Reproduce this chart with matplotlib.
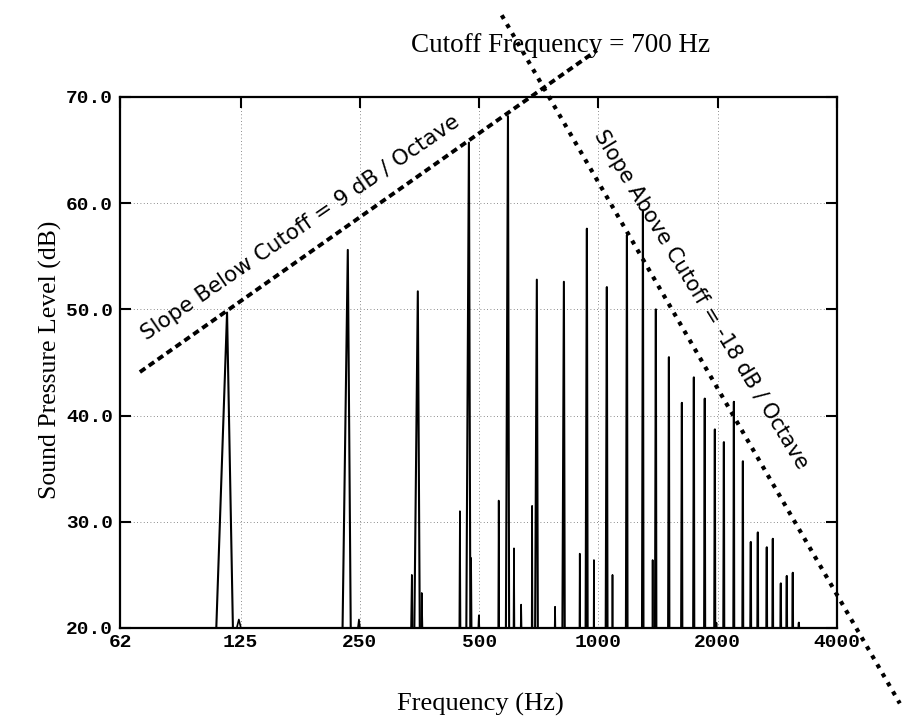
import matplotlib
matplotlib.use("Agg")
import matplotlib.pyplot as plt
from matplotlib.ticker import NullLocator

# Harmonic peaks of the spectrum (Hz, dB)
peak_freqs = [115.5, 233, 350, 471, 591, 699, 818, 935, 1050, 1180, 1295, 1396, 1506, 1624,
              1741, 1855, 1967, 2073, 2197, 2315, 2424, 2525, 2660, 2755, 2886, 2988, 3094, 3205]
peak_levels = [49.7, 55.6, 51.7, 65.7, 68.2, 52.8, 52.6, 57.6, 52.1, 57.0, 59.3, 50.0, 45.5, 41.2,
               43.6, 41.6, 38.7, 37.5, 41.3, 35.7, 28.1, 29.0, 27.6, 28.4, 24.2, 24.9, 25.2, 20.5]

# Small side components between the harmonics
side_freqs = [123.7, 248.6, 338, 358, 447, 477, 499, 560, 612, 638, 680, 777, 897, 974, 1085, 1370, 1985]
side_levels = [20.8, 20.8, 25.0, 23.3, 31.0, 26.6, 21.2, 32.0, 27.5, 22.2, 31.5, 22.0, 27.0, 26.4, 25.0, 26.4, 20.5]

# Slope lines drawn on the figure (Hz, dB)
below_line_f = [69.6, 991]
below_line_db = [44.1, 74.4]
above_line_f = [570, 5762]
above_line_db = [77.7, 12.9]

x_ticks = [62, 125, 250, 500, 1000, 2000, 4000]
x_tick_labels = ['62', '125', '250', '500', '1000', '2000', '4000']
y_ticks = [20, 30, 40, 50, 60, 70]
y_tick_labels = ['20.0', '30.0', '40.0', '50.0', '60.0', '70.0']

W, H = 903, 721
fig = plt.figure(figsize=(W / 100, H / 100), dpi=100)
ax = fig.add_axes([120 / W, 1 - 628 / H, (837 - 120) / W, (628 - 97) / H])

floor = 20.0
# main peaks : narrow triangles from the floor
for f, lvl in zip(peak_freqs, peak_levels):
    ax.plot([f - 7, f, f + 4], [floor, lvl, floor], color='black', lw=1.5)
# side components
for f, lvl in zip(side_freqs, side_levels):
    ax.plot([f - 1.5, f, f + 1.5], [floor, lvl, floor], color='black', lw=1.2)

# slope lines (go outside the axes)
ax.plot(below_line_f, below_line_db, color='black', lw=2.8,
        linestyle=(0, (1.7, 1.1)), clip_on=False)
ax.plot(above_line_f, above_line_db, color='black', lw=3.0,
        linestyle=(0, (1.0, 1.5)), clip_on=False)

ax.set_xscale('log', base=2)
ax.set_xlim(62, 4000)
ax.set_ylim(20, 70)
ax.set_xticks(x_ticks)
ax.set_xticklabels(x_tick_labels)
ax.xaxis.set_minor_locator(NullLocator())
ax.set_yticks(y_ticks)
ax.set_yticklabels(y_tick_labels)

ax.grid(True, color='black', lw=0.6, linestyle=(0, (1, 3)), alpha=0.6)
ax.tick_params(direction='in', length=8, width=1.5, top=True, right=True)
ax.tick_params(axis='x', which='major', pad=4)
ax.tick_params(axis='x', bottom=False, labelbottom=True)
ax.tick_params(axis='y', pad=5)
for lab in ax.get_xticklabels() + ax.get_yticklabels():
    lab.set_fontfamily('Liberation Mono')
    lab.set_fontweight('bold')
    lab.set_fontsize(14)
for sp in ax.spines.values():
    sp.set_linewidth(1.6)

# labels
serif = 'Liberation Serif'
fig.text(480 / W, 1 - 704 / H, 'Frequency (Hz)', ha='center', va='center',
         fontsize=19, family=serif)
fig.text(50 / W, 1 - 360 / H, 'Sound Pressure Level (dB)', ha='center', va='center',
         rotation=90, fontsize=18.5, family=serif)
fig.text(561 / W, 1 - 45 / H, 'Cutoff Frequency = 700 Hz', ha='center', va='center',
         fontsize=19.5, family=serif)

fig.text(300 / W, 1 - 228 / H, 'Slope Below Cutoff = 9 dB / Octave', ha='center', va='center',
         rotation=34.5, rotation_mode='anchor', fontsize=15.5, family='DejaVu Sans')
fig.text(701 / W, 1 - 300 / H, 'Slope Above Cutoff = -18 dB / Octave', ha='center', va='center',
         rotation=-58.6, rotation_mode='anchor', fontsize=15, family='DejaVu Sans')

fig.savefig('out.png', dpi=100)
